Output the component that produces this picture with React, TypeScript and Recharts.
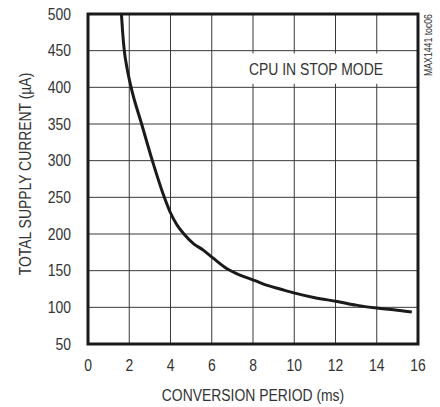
import React from "react";
import {
  LineChart,
  Line,
  XAxis,
  YAxis,
  CartesianGrid,
  ReferenceArea,
} from "recharts";

// conversion period (ms)
const period = [
  1.62, 1.68, 1.76, 1.9, 2.09, 2.6, 3.12, 3.7, 3.98, 4.3, 4.62, 5.11, 5.59,
  6.07, 6.72, 7.37, 8.1, 8.74, 9.31, 10.08, 11.0, 12.09, 13.0, 14.1, 15.0, 15.7,
];
// total supply current (uA)
const current = [
  500, 475, 450, 425, 400, 350, 300, 250, 230, 213, 201, 187, 178, 167, 153,
  144, 136.4, 129.5, 125, 119, 113, 108, 103, 98.6, 96, 93.5,
];

const xTicks = [0, 2, 4, 6, 8, 10, 12, 14, 16];
const yTicks = [50, 100, 150, 200, 250, 300, 350, 400, 450, 500];

const data = period.map((p, i) => ({ period: p, current: current[i] }));

const FONT = "'Liberation Sans', Arial, sans-serif";
const INK = "#333";
const SQUEEZE = 0.87;

// condensed text (the original uses a narrow Helvetica)
const Narrow = ({ x, y, anchor = "middle", rotate = 0, size = 16, dy = "0.355em", children }: any) => (
  <text
    transform={`translate(${x},${y}) rotate(${rotate}) scale(${SQUEEZE},1)`}
    x={0}
    y={0}
    dy={dy}
    textAnchor={anchor}
    fontSize={size}
    fontFamily={FONT}
    fill={INK}
  >
    {children}
  </text>
);

const XTick = ({ x, y, payload }: any) => (
  <Narrow x={x} y={y} dy="0.71em">
    {payload.value}
  </Narrow>
);

const YTick = ({ x, y, payload }: any) => (
  <Narrow x={x} y={y} anchor="end">
    {payload.value}
  </Narrow>
);

const XTitle = ({ viewBox }: any) => {
  if (!viewBox) return null;
  return (
    <Narrow x={viewBox.x + viewBox.width / 2} y={viewBox.y + 51}>
      CONVERSION PERIOD (ms)
    </Narrow>
  );
};

const YTitle = ({ viewBox }: any) => {
  if (!viewBox) return null;
  return (
    <Narrow x={viewBox.x + 25} y={viewBox.y + viewBox.height / 2 - 5} rotate={-90}>
      TOTAL SUPPLY CURRENT ({"\u00b5"}A)
    </Narrow>
  );
};

const StopModeLabel = ({ viewBox }: any) => {
  if (!viewBox) return null;
  const { x, y, width, height } = viewBox;
  return (
    <Narrow x={x + width / 2 - 2} y={y + height / 2 + 1}>
      CPU IN STOP MODE
    </Narrow>
  );
};

export default function App() {
  return (
    <div style={{ position: "absolute", left: 0, top: 0, width: 440, height: 407, background: "#fff" }}>
      <LineChart
        width={440}
        height={407}
        data={data}
        margin={{ top: 14, right: 22, bottom: 0, left: 0 }}
      >
        <CartesianGrid stroke="#3a3a3a" strokeWidth={1} />
        <XAxis
          type="number"
          dataKey="period"
          domain={[0, 16]}
          ticks={xTicks}
          interval={0}
          tickLine={false}
          axisLine={false}
          tickSize={0}
          tickMargin={16}
          tick={<XTick />}
          height={63}
          label={<XTitle />}
        />
        <YAxis
          type="number"
          domain={[50, 500]}
          ticks={yTicks}
          interval={0}
          allowDataOverflow
          tickLine={false}
          axisLine={false}
          tickSize={0}
          tickMargin={17}
          tick={<YTick />}
          width={88}
          label={<YTitle />}
        />
        <ReferenceArea
          x1={7.56}
          x2={14.74}
          y1={405}
          y2={446}
          fill="#fff"
          fillOpacity={1}
          stroke="none"
          label={<StopModeLabel />}
        />
        <Line
          type="monotone"
          dataKey="current"
          stroke="#1a1a1a"
          strokeWidth={3}
          dot={false}
          isAnimationActive={false}
        />
        <ReferenceArea
          x1={0}
          x2={16}
          y1={50}
          y2={500}
          fill="none"
          stroke="#1a1a1a"
          strokeWidth={3}
        />
      </LineChart>
      <svg
        width={18}
        height={80}
        style={{ position: "absolute", left: 419, top: 8 }}
      >
        <Narrow x={9} y={37} rotate={-90} size={10}>
          MAX1441 toc06
        </Narrow>
      </svg>
    </div>
  );
}
